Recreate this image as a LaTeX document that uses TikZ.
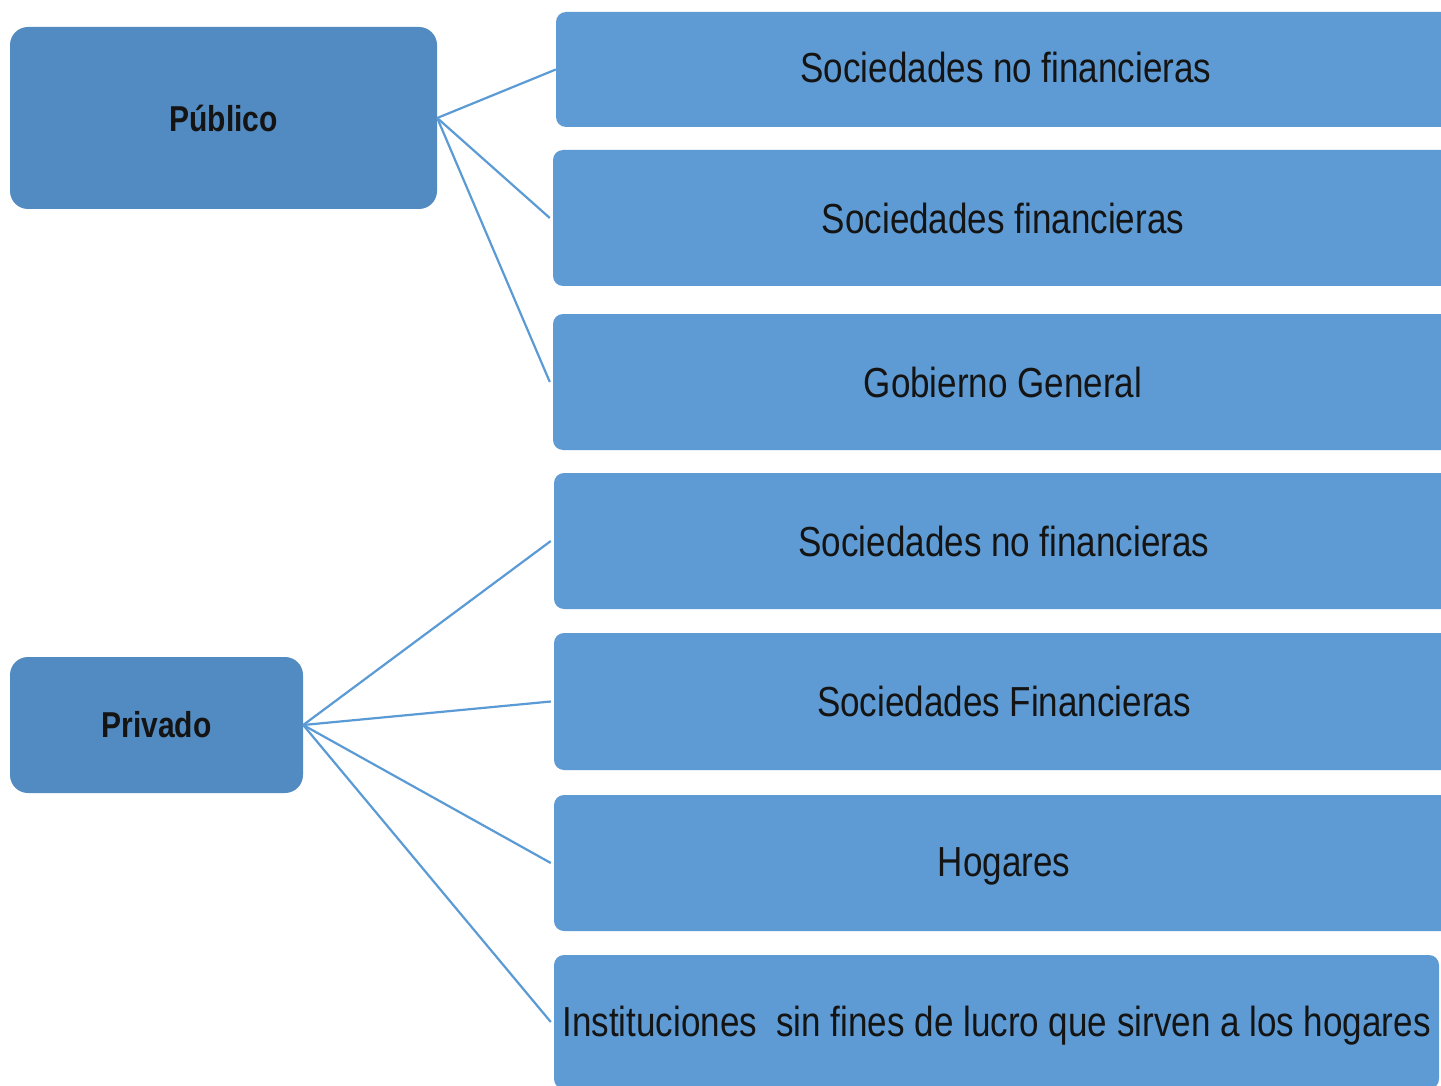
\documentclass[tikz,border=0pt]{standalone}
\usepackage{fontspec}
\setmainfont{Liberation Sans}[FakeStretch=0.834]
\definecolor{leftfill}{HTML}{528BC1}
\definecolor{rightfill}{HTML}{5E9BD4}
\definecolor{linkcol}{HTML}{5B9BD5}
\definecolor{txt}{HTML}{141414}
\begin{document}
\begin{tikzpicture}[x=1pt,y=-1pt,
  leftbox/.style={draw=none,fill=leftfill,rounded corners=18pt,inner sep=0pt,text=txt,
    font=\fontsize{36}{42}\selectfont\bfseries},
  rightbox/.style={draw=none,fill=rightfill,rounded corners=10pt,inner sep=0pt,text=txt,
    font=\fontsize{42}{48}\selectfont},
  lbl/.style={inner sep=0pt,text=txt,font=\fontsize{42}{48}\selectfont},
  link/.style={draw=linkcol,line width=2.2pt}]
\useasboundingbox (0,0) rectangle (1441,1086);
\fill[white] (0,0) rectangle (1441,1086);
\node[leftbox,minimum width=427pt,minimum height=182pt] (pub) at (223.5,118) {Público};
\node[leftbox,minimum width=293pt,minimum height=136pt] (priv) at (156.5,725) {Privado};
\node[rightbox,minimum width=900pt,minimum height=115pt] (r1) at (1006,69.5) {};
\node[rightbox,minimum width=900pt,minimum height=136pt] (r2) at (1003,218) {};
\node[rightbox,minimum width=900pt,minimum height=136pt] (r3) at (1003,382) {};
\node[rightbox,minimum width=900pt,minimum height=136pt] (r4) at (1004,541) {};
\node[rightbox,minimum width=900pt,minimum height=137pt] (r5) at (1004,701.5) {};
\node[rightbox,minimum width=900pt,minimum height=136pt] (r6) at (1004,863) {};
\node[rightbox,minimum width=885pt,minimum height=134pt] (r7) at (996.5,1022) {};
\node[lbl] (t1) at ([yshift=2pt]r1.center) {Sociedades no financieras};
\node[lbl] (t2) at (r2.center) {Sociedades financieras};
\node[lbl] (t3) at (r3.center) {Gobierno General};
\node[lbl] (t4) at (r4.center) {Sociedades no financieras};
\node[lbl] (t5) at (r5.center) {Sociedades Financieras};
\node[lbl] (t6) at ([yshift=-3pt]r6.center) {Hogares};
\node[lbl] (t7) at ([yshift=-4pt]r7.center) {Instituciones\ \ sin fines de lucro que sirven a los hogares};
\draw[link] (pub.east) -- (r1.west);
\draw[link] (pub.east) -- ([xshift=-3pt]r2.west);
\draw[link] (pub.east) -- ([xshift=-3pt]r3.west);
\draw[link] (priv.east) -- ([xshift=-3pt]r4.west);
\draw[link] (priv.east) -- ([xshift=-3pt]r5.west);
\draw[link] (priv.east) -- ([xshift=-3pt]r6.west);
\draw[link] (priv.east) -- ([xshift=-3pt]r7.west);
\end{tikzpicture}
\end{document}
